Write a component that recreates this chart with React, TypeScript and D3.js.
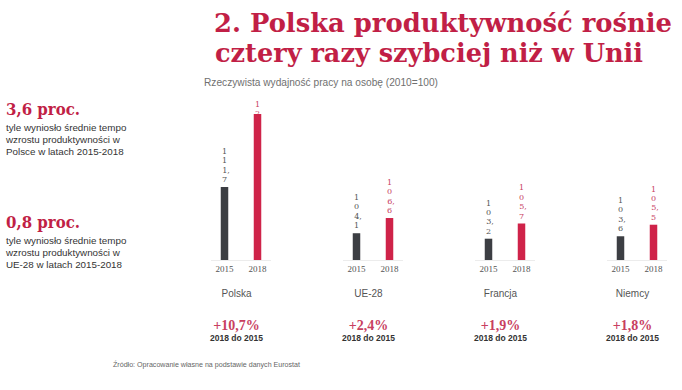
import React from "react";
import * as d3 from "d3";

const categories = ["Polska", "UE-28", "Francja", "Niemcy"];
const years = ["2015", "2018"];
const values2015 = [111.7, 104.1, 103.2, 103.6];
const values2018 = [123.7, 106.6, 105.7, 105.5];
const changes = ["+10,7%", "+2,4%", "+1,9%", "+1,8%"];
const changeNote = "2018 do 2015";
const titleLines = ["2. Polska produktywność rośnie", "cztery razy szybciej niż w Unii"];
const subtitle = "Rzeczywista wydajność pracy na osobę (2010=100)";
const sideHeads = ["3,6 proc.", "0,8 proc."];
const sideTexts = [
  ["tyle wyniosło średnie tempo", "wzrostu produktywności w", "Polsce w latach 2015-2018"],
  ["tyle wyniosło średnie tempo", "wzrostu produktywności w", "UE-28 w latach 2015-2018"],
];
const source = "Źródło: Opracowanie własne na podstawie danych Eurostat";

const W = 682;
const H = 390;
const RED = "#cf2349";
const DARK = "#3c3e43";
const TITLE_RED = "#c11f46";

function splitLabel(v: number): string[] {
  const s = v.toFixed(1).replace(".", ",");
  const out: string[] = [];
  for (const ch of s) {
    if (ch === "," && out.length) out[out.length - 1] += ",";
    else out.push(ch);
  }
  return out;
}

export default function App() {
  const baseline = 260;
  const y = d3.scaleLinear().domain([99.7, 123.7]).range([baseline, 114]);
  const xg = d3.scalePoint<string>().domain(categories).range([241, 637]);
  const xi = d3.scalePoint<string>().domain(years).range([-16.5, 16.5]);
  const bw = 7.5;
  const lh = 9.4;
  const labelTopMin = 107;

  const series = [values2015, values2018];

  return (
    <div style={{ position: "absolute", left: 0, top: 0 }}>
      <svg width={W} height={H} style={{ display: "block", background: "#fff" }}>
        <defs>
          {categories.map((c, ci) =>
            years.map((yr, yi) => (
              <clipPath id={`clip-${ci}-${yi}`} key={`${ci}-${yi}`}>
                <rect x={0} y={0} width={W} height={y(series[yi][ci])} />
              </clipPath>
            ))
          )}
        </defs>

        {/* Title */}
        <g fontFamily="'DejaVu Serif', serif" fontWeight="bold" fill={TITLE_RED}>
          <text x={214} y={32} fontSize={26} textLength={458} lengthAdjust="spacingAndGlyphs">
            {titleLines[0]}
          </text>
          <text x={215} y={62} fontSize={26} textLength={428} lengthAdjust="spacingAndGlyphs">
            {titleLines[1]}
          </text>
        </g>
        <text
          x={204}
          y={86}
          fontFamily="'Liberation Sans', Arial, sans-serif"
          fontSize={10}
          fill="#707070"
          textLength={234}
          lengthAdjust="spacingAndGlyphs"
        >
          {subtitle}
        </text>

        {/* Side notes */}
        {[115, 228].map((by, i) => (
          <g key={i}>
            <text
              x={6}
              y={by}
              fontFamily="'DejaVu Serif', serif"
              fontWeight="bold"
              fontSize={16}
              fill={TITLE_RED}
              textLength={74}
              lengthAdjust="spacingAndGlyphs"
            >
              {sideHeads[i]}
            </text>
            {sideTexts[i].map((t, j) => (
              <text
                key={j}
                x={6}
                y={by + 16 + j * 12.2}
                fontFamily="'Liberation Sans', Arial, sans-serif"
                fontSize={9.8}
                fill="#333"
              >
                {t}
              </text>
            ))}
          </g>
        ))}

        {/* Bars */}
        {categories.map((c, ci) => {
          const cx = xg(c)!;
          return (
            <g key={c}>
              <line x1={cx - 30} x2={cx + 30} y1={baseline + 0.5} y2={baseline + 0.5} stroke="#ececec" strokeWidth={1} />
              {years.map((yr, yi) => {
                const v = series[yi][ci];
                const bx = cx + xi(yr)!;
                const top = y(v);
                const lines = splitLabel(v);
                let first = top - 5 - (lines.length - 1) * lh;
                if (first < labelTopMin) first = labelTopMin;
                return (
                  <g key={yr}>
                    <g clipPath={`url(#clip-${ci}-${yi})`}>
                      {lines.map((l, li) => (
                        <text
                          key={li}
                          x={bx + (l.endsWith(",") ? 1.5 : 0)}
                          y={first + li * lh}
                          textAnchor="middle"
                          fontFamily="'DejaVu Serif', serif"
                          fontSize={8}
                          fill={yi === 0 ? "#555" : "#c8405f"}
                        >
                          {l}
                        </text>
                      ))}
                    </g>
                    <rect x={bx - bw / 2} y={top} width={bw} height={baseline - top} fill={yi === 0 ? DARK : RED} />
                    <text
                      x={bx}
                      y={baseline + 12}
                      textAnchor="middle"
                      fontFamily="'Liberation Serif', serif"
                      fontSize={9}
                      fill="#555"
                    >
                      {yr}
                    </text>
                  </g>
                );
              })}
              <text
                x={cx - 4.5}
                y={297}
                textAnchor="middle"
                fontFamily="'Liberation Sans', Arial, sans-serif"
                fontSize={10}
                fill="#555"
              >
                {c}
              </text>
              <text
                x={cx - 4.5}
                y={330}
                textAnchor="middle"
                fontFamily="'Liberation Serif', serif"
                fontWeight="bold"
                fontSize={14}
                fill="#c8405f"
              >
                {changes[ci]}
              </text>
              <text
                x={cx - 4.5}
                y={341}
                textAnchor="middle"
                fontFamily="'Liberation Sans', Arial, sans-serif"
                fontWeight="bold"
                fontSize={8.5}
                fill="#333"
              >
                {changeNote}
              </text>
            </g>
          );
        })}

        <text
          x={113}
          y={367}
          fontFamily="'Liberation Sans', Arial, sans-serif"
          fontSize={7.5}
          fill="#666"
          textLength={187}
          lengthAdjust="spacingAndGlyphs"
        >
          {source}
        </text>
      </svg>
    </div>
  );
}
